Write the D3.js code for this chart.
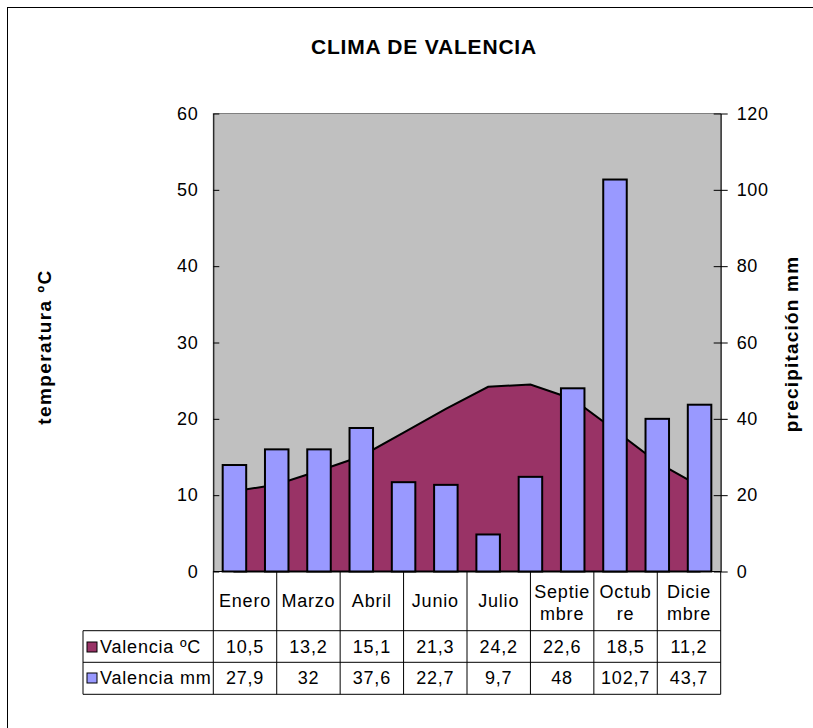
<!DOCTYPE html>
<html>
<head>
<meta charset="utf-8">
<script src="https://cdn.jsdelivr.net/npm/d3@7"></script>
<style>
  body { margin: 0; background: #fff; overflow: hidden; }
  text { font-family: Arial, "Liberation Sans", sans-serif; fill: #000; }
</style>
</head>
<body>
<div id="chart"></div>
<script>
// monthly data
const months = ['Enero', 'Febrero', 'Marzo', 'Abril', 'Mayo', 'Junio', 'Julio', 'Agosto', 'Septiembre', 'Octubre', 'Noviembre', 'Diciembre'];
const temperature = [10.5, 11.4, 13.2, 15.1, 18.2, 21.3, 24.2, 24.5, 22.6, 18.5, 14.3, 11.2];
const precipitation = [27.9, 32, 32, 37.6, 23.4, 22.7, 9.7, 24.8, 48, 102.7, 40, 43.7];

// data table under the chart (only 8 columns are shown)
const tableCats = [['Enero'], ['Marzo'], ['Abril'], ['Junio'], ['Julio'], ['Septie', 'mbre'], ['Octub', 're'], ['Dicie', 'mbre']];
const tableTemp = ['10,5', '13,2', '15,1', '21,3', '24,2', '22,6', '18,5', '11,2'];
const tablePrec = ['27,9', '32', '37,6', '22,7', '9,7', '48', '102,7', '43,7'];

const tempTicks = [0, 10, 20, 30, 40, 50, 60];
const precTicks = [0, 20, 40, 60, 80, 100, 120];

const W = 813, H = 728;
const pLeft = 213.3, pRight = 720.7, pTop = 113.5, pBottom = 571.5;

const svg = d3.select('#chart').append('svg')
  .attr('width', W)
  .attr('height', H);

// outer frame (runs past the right and bottom edges of the picture)
svg.append('rect')
  .attr('x', 7.5).attr('y', 7.5)
  .attr('width', 900).attr('height', 900)
  .attr('fill', 'none').attr('stroke', '#000').attr('stroke-width', 1);

const x = d3.scaleBand().domain(months).range([pLeft, pRight]).paddingInner(0.444).paddingOuter(0.222);
const xc = d3.scaleBand().domain(d3.range(tableCats.length)).range([pLeft, pRight]);
const yT = d3.scaleLinear().domain([0, 60]).range([pBottom, pTop]);
const yP = d3.scaleLinear().domain([0, 120]).range([pBottom, pTop]);

svg.append('rect')
  .attr('x', pLeft).attr('y', pTop)
  .attr('width', pRight - pLeft).attr('height', pBottom - pTop)
  .attr('fill', '#c0c0c0').attr('stroke', '#808080');

const cx = m => x(m) + x.bandwidth() / 2;

const area = d3.area()
  .x((d, i) => cx(months[i]))
  .y0(yT(0))
  .y1(d => yT(d));

svg.append('path')
  .datum(temperature)
  .attr('d', area)
  .attr('fill', '#993366')
  .attr('stroke', '#000')
  .attr('stroke-width', 2);

svg.selectAll('rect.bar')
  .data(precipitation)
  .enter()
  .append('rect')
  .attr('class', 'bar')
  .attr('x', (d, i) => x(months[i]))
  .attr('y', d => yP(d))
  .attr('width', x.bandwidth())
  .attr('height', d => yP(0) - yP(d))
  .attr('fill', '#9999ff')
  .attr('stroke', '#000')
  .attr('stroke-width', 2);

// axes
const axL = svg.append('g')
  .attr('transform', `translate(${pLeft},0)`)
  .call(d3.axisLeft(yT).tickValues(tempTicks).tickSizeInner(6).tickSizeOuter(0).tickPadding(9));
axL.selectAll('.tick line').attr('x2', 6);
const axR = svg.append('g')
  .attr('transform', `translate(${pRight},0)`)
  .call(d3.axisRight(yP).tickValues(precTicks).tickSizeInner(7).tickSizeOuter(0).tickPadding(9));
axR.selectAll('.tick line').attr('x1', -7);
[axL, axR].forEach(g => {
  g.selectAll('text').style('font-size', '18px').style('letter-spacing', '0.6px')
    .attr('font-family', 'Arial, "Liberation Sans", sans-serif');
  g.select('.domain').attr('stroke', '#000');
});

svg.append('line')
  .attr('x1', pLeft).attr('x2', pRight)
  .attr('y1', pBottom).attr('y2', pBottom)
  .attr('stroke', '#000');

// titles
svg.append('text')
  .attr('x', 424).attr('y', 54)
  .attr('text-anchor', 'middle')
  .style('font-size', '21px').style('font-weight', 'bold').style('letter-spacing', '0.8px')
  .text('CLIMA DE VALENCIA');

svg.append('text')
  .attr('transform', 'translate(51,347) rotate(-90)')
  .attr('text-anchor', 'middle')
  .style('font-size', '19px').style('font-weight', 'bold').style('letter-spacing', '1.4px')
  .text('temperatura ºC');

svg.append('text')
  .attr('transform', 'translate(798,344) rotate(-90)')
  .attr('text-anchor', 'middle')
  .style('font-size', '19px').style('font-weight', 'bold').style('letter-spacing', '1.2px')
  .text('precipitación mm');

// data table
const rowY = [pBottom, 630.7, 662.3, 694.3];
const tableLeft = 83;
const grid = svg.append('g').attr('stroke', '#000').attr('stroke-width', 1);
d3.range(tableCats.length + 1).forEach(i => {
  const xx = i < tableCats.length ? xc(i) : pRight;
  grid.append('line').attr('x1', xx).attr('x2', xx).attr('y1', pBottom).attr('y2', rowY[3]);
});
rowY.slice(1).forEach(yy => {
  grid.append('line').attr('x1', tableLeft).attr('x2', pRight).attr('y1', yy).attr('y2', yy);
});
grid.append('line').attr('x1', tableLeft).attr('x2', tableLeft).attr('y1', rowY[1]).attr('y2', rowY[3]);

const cells = svg.append('g').style('font-size', '18px').style('letter-spacing', '0.8px').attr('text-anchor', 'middle');
tableCats.forEach((lines, i) => {
  const xm = xc(i) + xc.bandwidth() / 2;
  const base = lines.length === 1 ? 607 : 598;
  lines.forEach((t, k) => {
    cells.append('text').attr('x', xm).attr('y', base + k * 22).text(t);
  });
  cells.append('text').attr('x', xm).attr('y', 653).text(tableTemp[i]);
  cells.append('text').attr('x', xm).attr('y', 684).text(tablePrec[i]);
});

const legendRows = [
  { name: 'Valencia ºC', color: '#993366', y: 653 },
  { name: 'Valencia mm', color: '#9999ff', y: 684 }
];
legendRows.forEach(r => {
  svg.append('rect')
    .attr('x', tableLeft + 4).attr('y', r.y - 11)
    .attr('width', 10).attr('height', 10)
    .attr('fill', r.color).attr('stroke', '#000');
  svg.append('text')
    .attr('x', tableLeft + 17).attr('y', r.y)
    .style('font-size', '18px').style('letter-spacing', '0.8px')
    .text(r.name);
});
</script>
</body>
</html>
